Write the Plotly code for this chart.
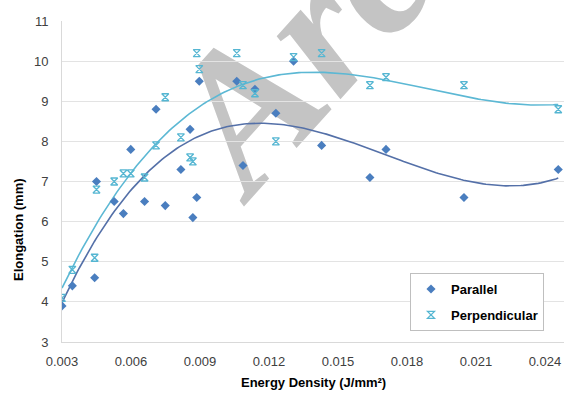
import numpy as np
import plotly.graph_objects as go

# Energy density of each build (J/mm²), shared by both orientations
energy_density = [0.0030, 0.00345, 0.00442, 0.00450, 0.00527, 0.00567, 0.00599,
                  0.00659, 0.00709, 0.00749, 0.00817, 0.00857, 0.00869, 0.00886,
                  0.00897, 0.01060, 0.01087, 0.01139, 0.01230, 0.01307, 0.01429,
                  0.01639, 0.01709, 0.02048, 0.02458]

# Elongation at break (mm)
parallel = [3.9, 4.4, 4.6, 7.0, 6.5, 6.2, 7.8, 6.5, 8.8, 6.4, 7.3, 8.3, 6.1,
            6.6, 9.5, 9.5, 7.4, 9.3, 8.7, 10.0, 7.9, 7.1, 7.8, 6.6, 7.3]
perpendicular = [4.1, 4.8, 5.1, 6.8, 7.0, 7.2, 7.2, 7.1, 7.9, 9.1, 8.1, 7.6, 7.5,
                 10.2, 9.8, 10.2, 9.4, 9.2, 8.0, 10.1, 10.2, 9.4, 9.6, 9.4, 8.8]

x_ticks = [0.003, 0.006, 0.009, 0.012, 0.015, 0.018, 0.021, 0.024]
x_tick_text = ["0.003", "0.006", "0.009", "0.012", "0.015", "0.018", "0.021", "0.024"]
y_ticks = [3, 4, 5, 6, 7, 8, 9, 10, 11]

FONT = "Liberation Sans, Arial, sans-serif"
PAR_COLOR = "#4A7EBF"
PERP_COLOR = "#55B6D2"

x_arr = np.array(energy_density)
x_fit = np.linspace(x_arr.min(), x_arr.max(), 200)


def cubic_trend(y):
    coeffs = np.polyfit(x_arr, np.array(y), 3)
    return np.polyval(coeffs, x_fit)


fig = go.Figure()

# polynomial trendlines
fig.add_trace(go.Scatter(x=x_fit, y=cubic_trend(parallel), mode="lines",
                         line=dict(color="#5470A8", width=1.6),
                         showlegend=False, hoverinfo="skip"))
fig.add_trace(go.Scatter(x=x_fit, y=cubic_trend(perpendicular), mode="lines",
                         line=dict(color="#5CB8D4", width=1.6),
                         showlegend=False, hoverinfo="skip"))

# measured points
fig.add_trace(go.Scatter(x=energy_density, y=parallel, mode="markers",
                         name="Parallel", legendgroup="a",
                         marker=dict(symbol="diamond", size=7, color=PAR_COLOR)))
fig.add_trace(go.Scatter(x=energy_density, y=perpendicular, mode="markers",
                         name="Perpendicular", legendgroup="b",
                         marker=dict(symbol="hourglass-open", size=7,
                                     color=PERP_COLOR,
                                     line=dict(color=PERP_COLOR, width=1.3))))

fig.update_xaxes(range=[0.003, 0.02483], tickvals=x_ticks, ticktext=x_tick_text,
                 showgrid=False, zeroline=False, showline=True,
                 linecolor="#D9D9D9", linewidth=1, ticks="",
                 ticklabelstandoff=7,
                 tickfont=dict(family=FONT, size=13, color="#404040"))
fig.update_yaxes(range=[3, 11], tickvals=y_ticks, showgrid=True,
                 gridcolor="#E3E3E3", gridwidth=1, zeroline=False,
                 showline=True, linecolor="#D9D9D9", linewidth=1, ticks="",
                 ticklabelstandoff=10,
                 tickfont=dict(family=FONT, size=13, color="#404040"))

fig.update_layout(
    width=565, height=393,
    margin=dict(l=62, r=1, t=21, b=51),
    paper_bgcolor="white", plot_bgcolor="rgba(0,0,0,0)",
    showlegend=True,
    legend=dict(x=(410 - 62) / 502, y=0.215, xanchor="left", yanchor="top",
                bgcolor="white", bordercolor="#BFBFBF", borderwidth=1,
                tracegroupgap=6,
                font=dict(family=FONT, size=13, color="#000000", weight="bold")),
    annotations=[
        dict(text="Arc", xref="paper", yref="paper", x=(296 - 62) / 502,
             y=(342 - 50) / 321, xanchor="center", yanchor="middle",
             textangle=-48, showarrow=False,
             font=dict(family="Liberation Serif, Times New Roman, serif",
                       size=195, color="#C4C4C4", weight="bold", style="italic")),
        dict(text="Energy Density (J/mm²)", xref="paper", yref="paper",
             x=0.5, y=-41 / 321, xanchor="center", yanchor="middle",
             showarrow=False,
             font=dict(family=FONT, size=13, color="#000000", weight="bold")),
        dict(text="Elongation (mm)", xref="paper", yref="paper",
             x=-44 / 502, y=(342 - 230) / 321, xanchor="center",
             yanchor="middle", textangle=-90, showarrow=False,
             font=dict(family=FONT, size=13, color="#000000", weight="bold")),
    ],
)

# keep the watermark beneath the gridlines and data
post = """
var gd = document.getElementById('{plot_id}');
var below = gd.querySelector('.main-svg .layer-below');
var anns = gd.querySelectorAll('.infolayer .annotation');
for (var i = 0; i < anns.length; i++) {
  if (anns[i].textContent === 'Arc' && below) { below.appendChild(anns[i]); }
}
"""

fig.write_html("out.html", post_script=post)
